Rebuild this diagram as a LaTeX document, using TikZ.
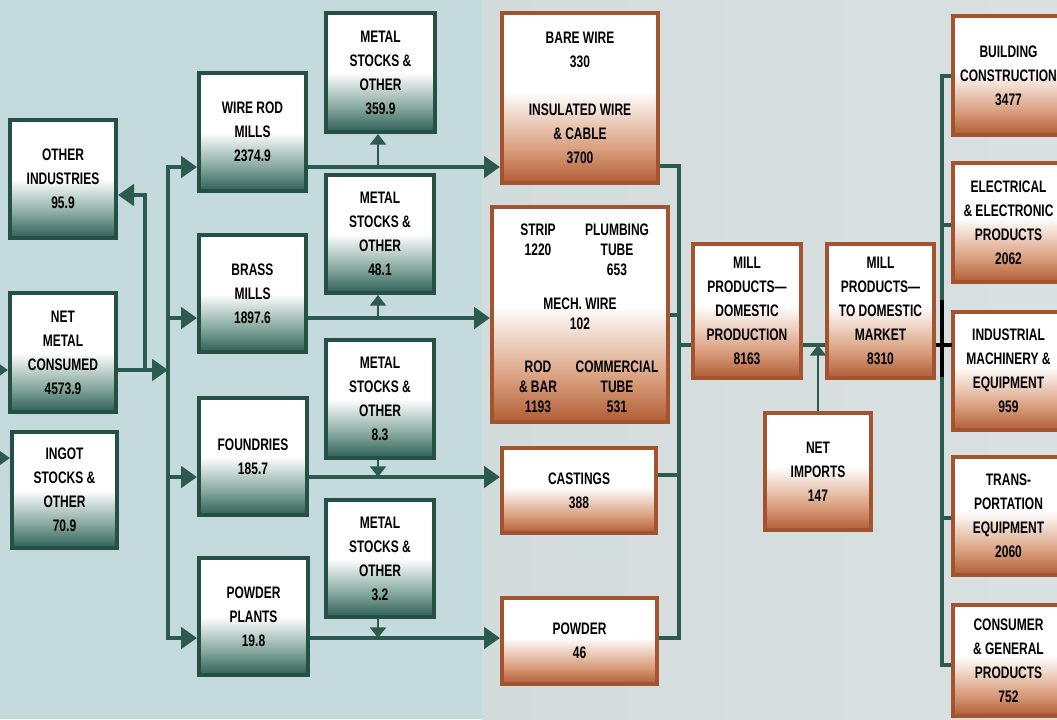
\documentclass[tikz,border=0pt]{standalone}
\usepackage{fontspec}
\setmainfont{Liberation Sans}[FakeStretch=0.72]
\usetikzlibrary{arrows.meta}
\definecolor{bgL}{HTML}{C5DADD}
\definecolor{bgR}{HTML}{D3DCDD}
\definecolor{bgR2}{HTML}{D9E0E1}
\definecolor{tealLine}{HTML}{2B5A4F}
\definecolor{tealBorder}{HTML}{245046}
\definecolor{tealD}{HTML}{2E5F56}
\definecolor{tealM}{HTML}{83A69D}
\definecolor{brownBorder}{HTML}{A3532D}
\definecolor{brownD}{HTML}{B15D35}
\definecolor{brownM}{HTML}{D99E7D}
\pgfdeclareverticalshading{tealsh}{100bp}{color(0bp)=(tealD); color(25bp)=(tealD); color(35bp)=(tealM); color(50bp)=(white); color(100bp)=(white)}
\pgfdeclareverticalshading{brownsh}{100bp}{color(0bp)=(brownD); color(25bp)=(brownD); color(35bp)=(brownM); color(52bp)=(white); color(100bp)=(white)}
\newcommand\bx[7]{\node[#6, minimum width={(#4-#2)*0.75pt}, minimum height={(#5-#3)*0.75pt}] (#1) at ({(#2+#4)/2},{(#3+#5)/2}) {#7};}
\tikzset{
  lbl/.style={font=\bfseries\fontsize{12.5}{18}\selectfont, align=center, inner sep=0pt},
  tbox/.style={lbl, draw=tealBorder, line width=3pt, shade, shading=tealsh},
  bbox/.style={lbl, draw=brownBorder, line width=3pt, shade, shading=brownsh},
  link/.style={draw=tealLine, line width=3pt},
  arr/.style={link, -{Triangle[length=12pt,width=16pt]}},
  sarr/.style={draw=tealLine, line width=1.6pt, -{Triangle[length=8pt,width=12pt]}},
}
\begin{document}
\begin{tikzpicture}[x=0.75pt,y=-0.75pt]
\useasboundingbox (0,0) rectangle (1057,719);
\clip (0,0) rectangle (1057,719);
\fill[bgL] (0,0) rectangle (482,719);
\shade[left color=bgR, right color=bgR2] (482,0) rectangle (1057,719);

% left column
\bx{oi}{10}{120}{116}{238}{tbox}{OTHER\\INDUSTRIES\\95.9}
\bx{nmc}{10}{293}{116}{412}{tbox}{NET\\METAL\\CONSUMED\\4573.9}
\bx{ing}{12}{432}{117}{548}{tbox}{INGOT\\STOCKS \&\\OTHER\\70.9}
% mills
\bx{wr}{199}{73}{306}{191}{tbox}{WIRE ROD\\MILLS\\2374.9}
\bx{bm}{199}{235}{306}{352}{tbox}{BRASS\\MILLS\\1897.6}
\bx{fo}{199}{398}{307}{515}{tbox}{FOUNDRIES\\185.7}
\bx{pp}{199}{558}{308}{675}{tbox}{POWDER\\PLANTS\\19.8}
% metal stocks
\bx{ms1}{326}{13}{435}{132}{tbox}{METAL\\STOCKS \&\\OTHER\\359.9}
\bx{ms2}{326}{175}{434}{293}{tbox}{METAL\\STOCKS \&\\OTHER\\48.1}
\bx{ms3}{326}{340}{434}{458}{tbox}{METAL\\STOCKS \&\\OTHER\\8.3}
\bx{ms4}{326}{500}{434}{617}{tbox}{METAL\\STOCKS \&\\OTHER\\3.2}
% products
\bx{bw}{502}{13}{658}{183}{bbox}{BARE WIRE\\330\\[18pt]INSULATED WIRE\\\& CABLE\\3700}
\bx{st}{492}{207}{668}{422}{bbox}{}
\bx{ca}{502}{448}{656}{533}{bbox}{CASTINGS\\388}
\bx{pw}{502}{598}{657}{684}{bbox}{POWDER\\46}
\begin{scope}[every node/.style={lbl, font=\bfseries\fontsize{12.5}{15}\selectfont}]
\node (t1) at (538,240) {STRIP\\1220};
\node (t2) at (617,250) {PLUMBING\\TUBE\\653};
\node (t3) at (580,314) {MECH. WIRE\\102};
\node (t4) at (538,387) {ROD\\\& BAR\\1193};
\node (t5) at (617,387) {COMMERCIAL\\TUBE\\531};
\end{scope}
% mill products
\bx{mpd}{693}{244}{801}{378}{bbox}{MILL\\PRODUCTS---\\DOMESTIC\\PRODUCTION\\8163}
\bx{mtd}{827}{244}{934}{378}{bbox}{MILL\\PRODUCTS---\\TO DOMESTIC\\MARKET\\8310}
\bx{ni}{765}{413}{871}{530}{bbox}{NET\\IMPORTS\\147}
% end uses
\bx{bc}{953}{16}{1064}{135}{bbox}{BUILDING\\CONSTRUCTION\\3477}
\bx{ee}{953}{163}{1064}{282}{bbox}{ELECTRICAL\\\& ELECTRONIC\\PRODUCTS\\2062}
\bx{im}{953}{312}{1064}{430}{bbox}{INDUSTRIAL\\MACHINERY \&\\EQUIPMENT\\959}
\bx{te}{953}{457}{1064}{575}{bbox}{TRANS-\\PORTATION\\EQUIPMENT\\2060}
\bx{cg}{953}{605}{1064}{716}{bbox}{CONSUMER\\\& GENERAL\\PRODUCTS\\752}

% coordinates
\coordinate (inA) at (0,370);
\coordinate (inB) at (0,458);
\coordinate (j1) at (145,370);
\coordinate (oiA) at (145,195);
\coordinate (busT) at (168,167);
\coordinate (busM) at (168,370);
\coordinate (busBr) at (168,318);
\coordinate (busF) at (168,477);
\coordinate (busB) at (168,638);
\coordinate (m1) at (378,167);
\coordinate (m2) at (378,318);
\coordinate (m3) at (378,477);
\coordinate (m4) at (378,638);
\coordinate (cT) at (679,166);
\coordinate (cS) at (679,315);
\coordinate (cM) at (679,345);
\coordinate (cC) at (679,475);
\coordinate (cB) at (679,638);
\coordinate (rT) at (942,76);
\coordinate (rE) at (942,225);
\coordinate (rM) at (942,345);
\coordinate (rTr) at (942,518);
\coordinate (rB) at (942,665);
\coordinate (kT) at (942,300);
\coordinate (kB) at (942,377);
\coordinate (kR) at (952,345);

% left inputs
\draw[arr] (inA) -- (nmc.west|-inA);
\draw[arr] (inB) -- (ing.west|-inB);
\draw[arr] (nmc.east|-busM) -- (busM);
\draw[arr] (j1) -- (oiA) -- (oi.east|-oiA);
% bus
\draw[link, line cap=rect] (busT) -- (busB);
\draw[arr] (busT) -- (wr.west|-busT);
\draw[arr] (busBr) -- (bm.west|-busBr);
\draw[arr] (busF) -- (fo.west|-busF);
\draw[arr] (busB) -- (pp.west|-busB);
% mills to products
\draw[arr] (wr.east|-busT) -- (bw.west|-busT);
\draw[arr] (bm.east|-busBr) -- (st.west|-busBr);
\draw[arr] (fo.east|-busF) -- (ca.west|-busF);
\draw[arr] (pp.east|-busB) -- (pw.west|-busB);
\draw[sarr] (m1) -- (m1|-ms1.south);
\draw[sarr] (m2) -- (m2|-ms2.south);
\draw[sarr] (m3|-ms3.south) -- (m3);
\draw[sarr] (m4|-ms4.south) -- (m4);
% collector
\draw[link, line cap=rect] (cT) -- (cB);
\draw[link] (bw.east|-cT) -- (cT);
\draw[link] (st.east|-cS) -- (cS);
\draw[link] (ca.east|-cC) -- (cC);
\draw[link] (pw.east|-cB) -- (cB);
\draw[link] (cM) -- (mpd.west|-cM);
\draw[link] (mpd.east|-cM) -- (mtd.west|-cM);
\draw[sarr] (ni.north) -- (ni.north|-cM);
\draw[link] (mtd.east|-cM) -- (rM);
% right bus
\draw[link, line cap=rect] (rT) -- (rB);
\draw[link] (rT) -- (bc.west|-rT);
\draw[link] (rE) -- (ee.west|-rE);
\draw[link] (rM) -- (im.west|-rM);
\draw[link] (rTr) -- (te.west|-rTr);
\draw[link] (rB) -- (cg.west|-rB);
\draw[black, line width=3pt] (kT) -- (kB);
\draw[black, line width=2.5pt] (mtd.east|-cM) -- (kR);
\end{tikzpicture}
\end{document}
